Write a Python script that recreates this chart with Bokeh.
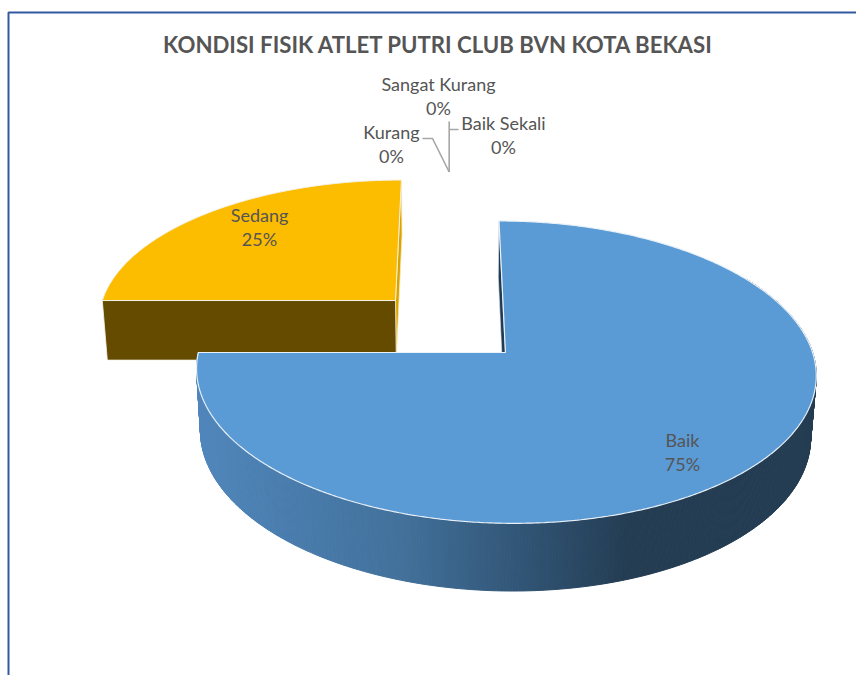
import numpy as np
from bokeh.embed import file_html
from bokeh.models import Range1d
from bokeh.plotting import figure
from bokeh.resources import INLINE
from bokeh.core.properties import value

TITLE = "KONDISI FISIK ATLET PUTRI CLUB BVN KOTA BEKASI"
categories = ["Baik", "Sedang", "Kurang", "Sangat Kurang", "Baik Sekali"]
shares = [75, 25, 0, 0, 0]
top_colors = ["#5B9BD5", "#FCBC00", "#A5A5A5", "#4472C4", "#70AD47"]

# Label anchors (screen px): centre x, middle y of the first line
label_x = [682, 259, 391, 438, 503]
label_y = [439.5, 214.5, 131.5, 83.5, 122]

# Camera of the 3-D pie: vanishing centre, radii, perspective and wall height
XC, YC, RX, RY, PERSP = 448.7, 325.4, 300.0, 141.8, 0.127
EXPLODE, WALL_LIFT, WALL_PERSP = 0.259, 61.5, 0.015
FONT = "Lato"
TEXT = "#555555"


def project(x, y, lowered=False):
    """World point on the pie's top plane (or its base) to screen px."""
    w = 1 + PERSP * y + (WALL_PERSP if lowered else 0)
    lift = WALL_LIFT if lowered else 0
    return XC + RX * x / w, YC - (RY * y - lift) / w


def slice_geometry(start, end):
    mid = np.radians((start + end) / 2)
    ox, oy = EXPLODE * np.sin(mid), EXPLODE * np.cos(mid)
    th = np.radians(np.linspace(start, end, max(2, int(end - start) * 2 + 1)))
    return ox, oy, ox + np.sin(th), oy + np.cos(th)


def wall_color(x):
    stops_x = [200, 400, 530, 625, 820]
    rgb = [np.interp(x, stops_x, c) for c in
           ([0x50, 0x42, 0x30, 0x24, 0x24],
            [0x86, 0x71, 0x53, 0x3D, 0x3D],
            [0xBB, 0x9B, 0x73, 0x53, 0x53])]
    return "#%02x%02x%02x" % tuple(int(round(v)) for v in rgb)


p = figure(width=856, height=675, output_backend="svg", toolbar_location=None,
           x_range=Range1d(0, 856), y_range=Range1d(675, 0),
           min_border=0, outline_line_color=None, background_fill_color="white")
p.axis.visible = False
p.grid.visible = False

# Chart frame: only the top and left edges fall inside the page
p.line([8, 8, 856], [675, 12, 12], line_color="#34589F", line_width=2)

# Slice angles come straight from the shares
cum = np.cumsum([0] + shares) * 3.6
rim = "#F4F1E6"

# Sedang: visible walls first, then its top face
ox, oy, ax, ay = slice_geometry(cum[1], cum[2])
ax0, ay0 = project(ax[0], ay[0])
ax0b, ay0b = project(ax[0], ay[0], True)
cxt, cyt = project(ox, oy)
cxb, cyb = project(ox, oy, True)
ex, ey = project(ax[-1], ay[-1])
exb, eyb = project(ax[-1], ay[-1], True)
p.patch([ex, cxt, cxb, exb], [ey, cyt, cyb, eyb], fill_color="#D9A400",
        line_color="#FBEBB8", line_width=0.8)
p.patch([ax0, cxt, cxb, ax0b], [ay0, cyt, cyb, ay0b], fill_color="#654B00",
        line_color=rim, line_width=0.8)
tx, ty = project(np.r_[ox, ax], np.r_[oy, ay])
p.patch(tx, ty, fill_color=top_colors[1], line_color=rim, line_width=1)

# Baik: the far cut wall, the shaded outer wall, then the top face
ox, oy, ax, ay = slice_geometry(cum[0], cum[1])
cxt, cyt = project(ox, oy)
cxb, cyb = project(ox, oy, True)
sx, sy = project(ax[0], ay[0])
sxb, syb = project(ax[0], ay[0], True)
p.patch([sx, cxt, cxb, sxb], [sy, cyt, cyb, syb], fill_color="#223B52",
        line_color="#DCE6F0", line_width=0.6)

tx, ty = project(ax, ay)
bx, by = project(ax, ay, True)
front = np.where(ay < 0.35)[0]
quad_x, quad_y, quad_c = [], [], []
for i in front[:-1]:
    if i + 1 not in front:
        continue
    quad_x.append([tx[i], tx[i + 1], bx[i + 1], bx[i]])
    quad_y.append([ty[i], ty[i + 1], by[i + 1], by[i]])
    quad_c.append(wall_color((tx[i] + tx[i + 1]) / 2))
p.patches(quad_x, quad_y, fill_color=quad_c, line_color=quad_c, line_width=1)

fx, fy = project(np.r_[ox, ax], np.r_[oy, ay])
p.patch(fx, fy, fill_color=top_colors[0], line_color="#E9F1F8", line_width=1.2)

# Leader lines of the zero-size slices all end at the pie's far rim
mid = np.radians(cum[2])
tipx, tipy = project((1 + EXPLODE) * np.sin(mid), (1 + EXPLODE) * np.cos(mid))
leader = dict(line_color="#A6A6A6", line_width=1.6)
p.line([422, 432, tipx], [138, 138, tipy], **leader)
p.line([tipx, tipx], [tipy, 121], **leader)
p.line([tipx, 458], [129, 129], **leader)

# Title and data labels
p.text([438], [43.5], text=[TITLE], text_font=value(FONT), text_font_style="bold",
       text_font_size="22.2px", text_color=TEXT, text_align="center",
       text_baseline="middle")
for name, share, lx, ly in zip(categories, shares, label_x, label_y):
    for line, yy in ((name, ly), (f"{share}%", ly + 24)):
        p.text([lx], [yy], text=[line], text_font=value(FONT),
               text_font_size="18px", text_color=TEXT, text_align="center",
               text_baseline="middle")

open("out.html", "w").write(file_html(p, INLINE))
